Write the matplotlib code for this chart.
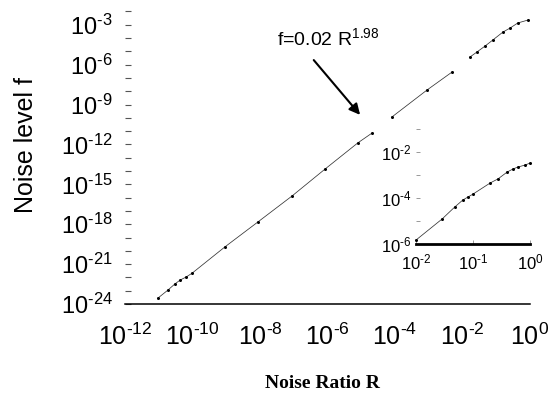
import matplotlib
matplotlib.use("Agg")
import matplotlib.pyplot as plt

plt.rcParams['font.family'] = 'Liberation Sans'
plt.rcParams['mathtext.fontset'] = 'custom'
plt.rcParams['mathtext.rm'] = 'Liberation Sans'
plt.rcParams['mathtext.it'] = 'Liberation Sans:italic'

# main curve in three drawn pieces
seg1_R = [9.5e-12, 1.86e-11, 3.0e-11, 4.3e-11, 6.5e-11, 9.8e-11,
          9.1e-10, 8.7e-09, 8.9e-08, 8.5e-07, 7.9e-06, 2.1e-05]
seg1_f = [2.8e-24, 1.1e-23, 3.2e-23, 6.3e-23, 1.07e-22, 2.1e-22,
          1.95e-20, 1.48e-18, 1.32e-16, 1.41e-14, 1.29e-12, 7.2e-12]
seg2_R = [8.1e-05, 8.9e-04, 4.9e-03]
seg2_f = [1.15e-10, 1.23e-08, 2.75e-07]
seg3_R = [0.0166, 0.0269, 0.0468, 0.0794, 0.158, 0.257, 0.436, 0.87]
seg3_f = [3.7e-06, 8.9e-06, 2.5e-05, 7.1e-05, 2.8e-04, 5.6e-04, 1.35e-03, 2.24e-03]

# inset (zoom on 1e-2 .. 1)
inset_R = [0.01, 0.0288, 0.0479, 0.066, 0.0813, 0.1, 0.2, 0.275,
           0.398, 0.5, 0.617, 0.813, 1.0]
inset_f = [1.48e-06, 1.23e-05, 4.07e-05, 8.1e-05, 1.1e-04, 1.48e-04,
           4.5e-04, 6.8e-04, 1.35e-03, 1.82e-03, 2.24e-03, 2.7e-03, 3.3e-03]


def pow_label(k):
    # short hyphen minus, like the original
    if k < 0:
        return r'$\mathdefault{10^{\text{-}%d}}$' % (-k)
    return r'$\mathdefault{10^{%d}}$' % k


main_yticks = [10.0 ** k for k in range(-24, -1)]
main_ylabels = [pow_label(k) if k % 3 == 0 else '' for k in range(-24, -1)]
main_xticks = [10.0 ** k for k in range(-12, 1, 2)]
main_xlabels = [pow_label(k) for k in range(-12, 1, 2)]

inset_yticks = [10.0 ** k for k in range(-6, 0)]
inset_ylabels = [pow_label(k) if k % 2 == 0 else '' for k in range(-6, 0)]
inset_xticks = [1e-2, 1e-1, 1e0]
inset_xlabels = [pow_label(-2), pow_label(-1), pow_label(0)]

fig = plt.figure(figsize=(5.55, 3.99), dpi=100)
ax = fig.add_axes([0.2252, 0.2381, 0.7297, 0.7333])

for R, f in [(seg1_R, seg1_f), (seg2_R, seg2_f), (seg3_R, seg3_f)]:
    ax.plot(R, f, color='#333333', lw=0.55, marker='o', ms=2.2,
            markeredgewidth=0, markerfacecolor='black', clip_on=False)

ax.set_xscale('log')
ax.set_yscale('log')
ax.set_xlim(1e-12, 1e0)
ax.set_ylim(1e-24, 1e-2)
ax.set_yticks(main_yticks, main_ylabels)
ax.set_xticks(main_xticks, main_xlabels)
ax.minorticks_off()
ax.tick_params(axis='x', length=0, pad=14, labelsize=18)
ax.tick_params(axis='y', direction='in', length=4, width=0.8, color='#555555',
               pad=9, labelsize=17)
for s in ['top', 'right', 'left']:
    ax.spines[s].set_visible(False)
ax.spines['bottom'].set_linewidth(1.1)

ax.text(10 ** -7.5, 10 ** -4.53, r'f=0.02 $\mathdefault{R^{1.98}}$', fontsize=14,
        ha='left', va='baseline')
ax.annotate('', xy=(10 ** -4.98, 10 ** -9.94), xytext=(10 ** -6.46, 10 ** -5.5),
            arrowprops=dict(arrowstyle='-|>', lw=1.5, color='black', mutation_scale=16))

fig.text(322 / 555, 1 - 383 / 399, 'Noise Ratio R', ha='center', va='center',
         fontsize=14, fontweight='bold', family='Liberation Serif')
fig.text(26 / 555, 1 - 145 / 399, 'Noise level f', ha='center', va='center',
         rotation=90, fontsize=18)

# inset
ins = fig.add_axes([0.7495, 0.3885, 0.2054, 0.288])
ins.plot(inset_R, inset_f, color='#333333', lw=0.55, marker='o', ms=2.2,
         markeredgewidth=0, markerfacecolor='black', clip_on=False)
ins.set_xscale('log')
ins.set_yscale('log')
ins.set_xlim(1e-2, 1e0)
ins.set_ylim(1e-6, 1e-1)
ins.set_yticks(inset_yticks, inset_ylabels)
ins.set_xticks(inset_xticks, inset_xlabels)
ins.minorticks_off()
ins.patch.set_alpha(0)
ins.tick_params(axis='both', direction='in', length=3, width=0.6, color='#888888',
                labelsize=12)
ins.tick_params(axis='y', pad=3)
ins.tick_params(axis='x', pad=6)
for s in ['top', 'right', 'left']:
    ins.spines[s].set_visible(False)
ins.spines['bottom'].set_linewidth(2)

fig.savefig('out.png', dpi=100)
